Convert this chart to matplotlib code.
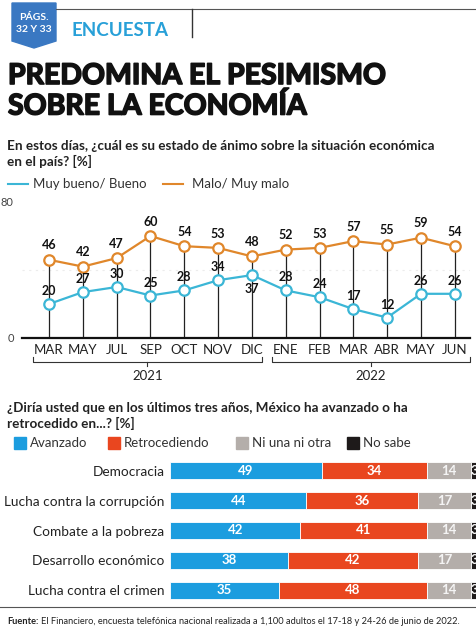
import matplotlib.pyplot as plt
import matplotlib.patheffects as pe
from matplotlib.patches import Polygon, Rectangle
import numpy as np

plt.rcParams['font.family'] = ['Lato', 'DejaVu Sans']

# line chart data
months = ["MAR", "MAY", "JUL", "SEP", "OCT", "NOV", "DIC",
          "ENE", "FEB", "MAR", "ABR", "MAY", "JUN"]
bueno = [20, 27, 30, 25, 28, 34, 37, 28, 24, 17, 12, 26, 26]
malo = [46, 42, 47, 60, 54, 53, 48, 52, 53, 57, 55, 59, 54]

# bar chart data
temas = ["Democracia", "Lucha contra la corrupción", "Combate a la pobreza",
         "Desarrollo económico", "Lucha contra el crimen"]
avanzado = [49, 44, 42, 38, 35]
retrocediendo = [34, 36, 41, 42, 48]
ni_una = [14, 17, 14, 17, 14]
no_sabe = [3, 3, 3, 3, 3]

C_BUENO = '#3bb6d6'
C_MALO = '#e0872b'
C_AV = '#1c9ddf'
C_RE = '#e9461f'
C_NI = '#b4aeaa'
C_NS = '#1e1a1a'

W, H = 477, 630
fig = plt.figure(figsize=(W / 100, H / 100), dpi=100)


def fx(px):
    return px / W


def fy(py):
    return 1 - py / H


# header
badge = Polygon([[fx(12), fy(3)], [fx(56), fy(3)], [fx(56), fy(41)],
                 [fx(34), fy(48)], [fx(12), fy(41)]],
                closed=True, transform=fig.transFigure, color='#3a78c2')
fig.patches.append(badge)
fig.text(fx(34), fy(17), "PÁGS.", color='white', fontsize=7.5, weight='bold',
         ha='center', va='center')
fig.text(fx(34), fy(30), "32 Y 33", color='white', fontsize=7.5, weight='bold',
         ha='center', va='center')
fig.text(fx(72), fy(31), "ENCUESTA", color='#28a0d8', fontsize=13.5,
         weight='bold', ha='left', va='center')
fig.add_artist(plt.Line2D([fx(56), fx(477)], [fy(9), fy(9)],
                          transform=fig.transFigure, color='#555555', lw=0.8))
fig.add_artist(plt.Line2D([fx(192), fx(192)], [fy(9), fy(37)],
                          transform=fig.transFigure, color='#333333', lw=1))

heavy = [pe.withStroke(linewidth=1.2, foreground='#111111')]
fig.text(fx(8), fy(76), "PREDOMINA EL PESIMISMO", fontsize=20.5,
         weight='bold', ha='left', va='center', color='#111111',
         path_effects=heavy)
fig.text(fx(8), fy(106), "SOBRE LA ECONOMÍA", fontsize=20.5,
         weight='bold', ha='left', va='center', color='#111111',
         path_effects=heavy)

fig.text(fx(7), fy(146), "En estos días, ¿cuál es su estado de ánimo sobre la situación económica",
         fontsize=9.7, weight='bold', ha='left', va='center', color='#222222')
fig.text(fx(7), fy(161), "en el país? [%]",
         fontsize=9.7, weight='bold', ha='left', va='center', color='#222222')

fig.add_artist(plt.Line2D([fx(8), fx(28)], [fy(184), fy(184)],
                          transform=fig.transFigure, color=C_BUENO, lw=1.5))
fig.text(fx(33), fy(184), "Muy bueno/ Bueno", fontsize=9.5, ha='left',
         va='center', color='#333333')
fig.add_artist(plt.Line2D([fx(163), fx(183)], [fy(184), fy(184)],
                          transform=fig.transFigure, color=C_MALO, lw=1.5))
fig.text(fx(192), fy(184), "Malo/ Muy malo", fontsize=9.5, ha='left',
         va='center', color='#333333')

# line chart
ax = fig.add_axes([fx(22), fy(338), fx(470) - fx(22), fy(202) - fy(338)])
x = np.arange(len(months))
ax.set_xlim(-0.8, 12.45)
ax.set_ylim(0, 80)
ax.axhline(40, color='#ececec', lw=0.8, ls=(0, (2, 4)), zorder=0)
ax.vlines(x, 0, malo, color='#222222', lw=0.9, zorder=1)
ax.plot(x, malo, color=C_MALO, lw=1.6, marker='o', ms=7.5, mfc='white',
        mec=C_MALO, mew=1.6, zorder=3)
ax.plot(x, bueno, color=C_BUENO, lw=1.6, marker='o', ms=7.5, mfc='white',
        mec=C_BUENO, mew=1.6, zorder=3)
for xi, v in zip(x, malo):
    ax.annotate(str(v), (xi, v), xytext=(0, 6), textcoords='offset points',
                ha='center', va='bottom', fontsize=9, weight='bold',
                color='#111111')
for xi, v in zip(x, bueno):
    if v == 37:
        ax.annotate(str(v), (xi, v), xytext=(0, -6), textcoords='offset points',
                    ha='center', va='top', fontsize=9, weight='bold',
                    color='#111111')
    else:
        ax.annotate(str(v), (xi, v), xytext=(0, 5), textcoords='offset points',
                    ha='center', va='bottom', fontsize=9, weight='bold',
                    color='#111111')
for s in ['top', 'right', 'left']:
    ax.spines[s].set_visible(False)
ax.spines['bottom'].set_linewidth(1.6)
ax.spines['bottom'].set_color('#111111')
ax.set_xticks(x)
ax.set_xticklabels(months, fontsize=9.5, color='#222222')
ax.set_yticks([0, 80])
ax.set_yticklabels(['0', '80'], fontsize=8, color='#444444')
ax.tick_params(axis='both', length=0, pad=4)
ax.tick_params(axis='y', pad=6)
ax.patch.set_alpha(0)

# year brackets
yb = -14
for x0, x1, yr in [(-0.48, 6.3, "2021"), (6.6, 12.45, "2022")]:
    ax.plot([x0, x0, x1, x1], [yb + 3, yb, yb, yb + 3], color='#333333',
            lw=0.8, clip_on=False)
    xm = (x0 + x1) / 2
    ax.plot([xm, xm], [yb, yb - 2.5], color='#333333', lw=0.8, clip_on=False)
    ax.text(xm, yb - 8.5, yr, ha='center', va='center', fontsize=9.5,
            color='#222222')

# bar chart header
fig.text(fx(7), fy(408), "¿Diría usted que en los últimos tres años, México ha avanzado o ha",
         fontsize=9.7, weight='bold', ha='left', va='center', color='#222222')
fig.text(fx(7), fy(423), "retrocedido en...? [%]",
         fontsize=9.7, weight='bold', ha='left', va='center', color='#222222')
leg = [(14, C_AV, "Avanzado"), (108, C_RE, "Retrocediendo"),
       (236, C_NI, "Ni una ni otra"), (347, C_NS, "No sabe")]
for px, c, lab in leg:
    fig.patches.append(Rectangle((fx(px), fy(449)), fx(12), fy(437) - fy(449),
                                 transform=fig.transFigure, color=c))
    fig.text(fx(px + 16), fy(443), lab, fontsize=9.5, ha='left',
             va='center', color='#333333')

# stacked bars
bx = fig.add_axes([fx(170), fy(605), fx(477) - fx(170), fy(456) - fy(605)])
yy = np.arange(len(temas))
left = np.zeros(len(temas))
for vals, c, tc in [(avanzado, C_AV, 'white'), (retrocediendo, C_RE, 'white'),
                    (ni_una, C_NI, '#f4f4f4'), (no_sabe, C_NS, 'white')]:
    bx.barh(yy, vals, left=left, height=0.57, color=c, edgecolor='white',
            linewidth=0.6)
    for yi, l, v in zip(yy, left, vals):
        xt = l + v / 2 if v > 5 else l + 1.1
        bx.text(xt, yi, str(v), ha='center', va='center', fontsize=9.5,
                weight='bold', color=tc)
    left = left + np.array(vals)
bx.set_xlim(0, 99)
bx.set_ylim(4.5, -0.5)
bx.set_yticks(yy)
bx.set_yticklabels(temas, fontsize=9.8, color='#222222')
bx.set_xticks([])
bx.tick_params(axis='y', length=0, pad=4)
for s in bx.spines.values():
    s.set_visible(False)

# footer
fig.add_artist(plt.Line2D([0, 1], [fy(607), fy(607)],
                          transform=fig.transFigure, color='#555555', lw=0.8))
ft = fig.text(fx(7), fy(621), "Fuente:", fontsize=6.7, weight='bold',
              ha='left', va='center', color='#222222')
fig.canvas.draw()
bb = ft.get_window_extent()
fig.text(bb.x1 / W + fx(3), fy(621),
         "El Financiero, encuesta telefónica nacional realizada a 1,100 adultos el 17-18 y 24-26 de junio de 2022.",
         fontsize=6.7, ha='left', va='center', color='#222222')

fig.savefig("out.png", dpi=100)
